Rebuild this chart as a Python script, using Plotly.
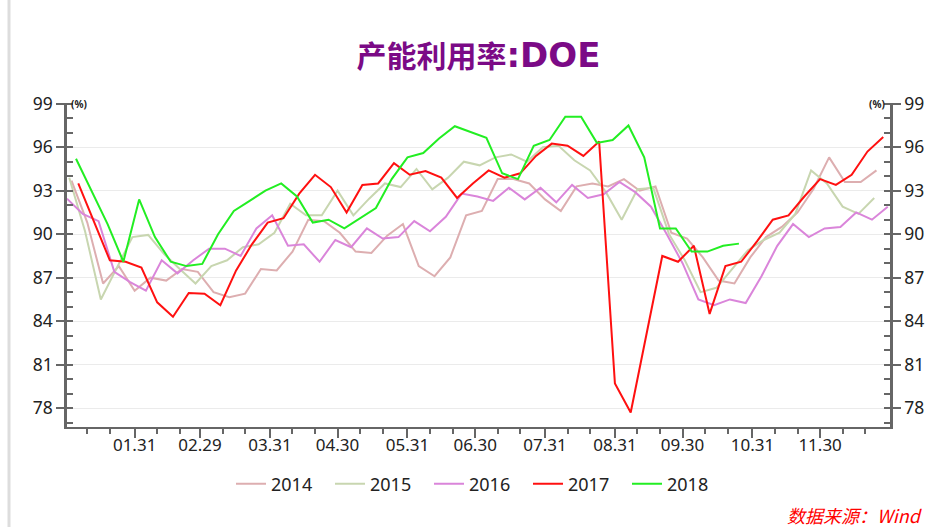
import pandas as pd
import plotly.graph_objects as go

# ---------------- data ----------------
YEARS = ["2014", "2015", "2016", "2017", "2018"]
# day in January of each year's first weekly report (plotted on a common calendar year)
START_DAY = [3, 2, 1, 6, 5]

v2014 = [93.7, 90.8, 86.6, 87.8, 86.1, 87.0, 86.8, 87.6, 87.4, 86.0, 85.65, 85.9, 87.6, 87.5,
         88.8, 91.0, 90.9, 90.1, 88.8, 88.7, 89.9, 90.7, 87.8, 87.1, 88.4, 91.3, 91.6, 93.8,
         93.8, 93.5, 92.4, 91.6, 93.3, 93.5, 93.3, 93.8, 93.0, 93.3, 90.1, 89.7, 88.4, 86.8,
         86.6, 88.4, 89.8, 90.5, 91.5, 93.1, 95.3, 93.6, 93.6, 94.4]
v2015 = [93.9, 90.2, 85.5, 87.7, 89.8, 89.95, 88.65, 87.6, 86.6, 87.8, 88.2, 89.1, 89.3, 90.1,
         92.1, 91.3, 91.3, 93.0, 91.3, 92.45, 93.5, 93.25, 94.5, 93.1, 93.9, 95.0, 94.75, 95.3,
         95.5, 95.0, 96.0, 96.1, 95.1, 94.4, 92.9, 91.0, 93.1, 93.2, 90.0, 88.2, 86.0, 86.3,
         87.6, 88.9, 89.6, 90.1, 91.4, 94.4, 93.5, 91.9, 91.4, 92.5]
v2016 = [92.45, 91.4, 90.9, 87.4, 86.7, 86.1, 88.2, 87.3, 88.2, 89.0, 89.0, 88.5, 90.4, 91.3,
         89.2, 89.3, 88.1, 89.6, 89.1, 90.4, 89.7, 89.8, 90.9, 90.2, 91.2, 92.8, 92.6, 92.3,
         93.2, 92.4, 93.2, 92.2, 93.4, 92.5, 92.75, 93.6, 92.9, 91.9, 90.0, 88.0, 85.5, 85.1,
         85.5, 85.25, 87.1, 89.2, 90.7, 89.8, 90.4, 90.5, 91.5, 91.0, 91.9]
v2017 = [93.5, 90.9, 88.2, 88.1, 87.7, 85.3, 84.3, 85.95, 85.9, 85.1, 87.5, 89.3, 90.8, 91.1,
         92.8, 94.1, 93.25, 91.5, 93.4, 93.5, 94.9, 94.1, 94.35, 93.9, 92.5, 93.5, 94.4, 93.9,
         94.2, 95.4, 96.25, 96.1, 95.4, 96.4, 79.7, 77.7, 83.0, 88.5, 88.1, 89.2, 84.5, 87.8,
         88.1, 89.5, 91.0, 91.3, 92.6, 93.8, 93.4, 94.1, 95.7, 96.7]
v2018 = [95.2, 93.0, 90.7, 88.1, 92.4, 89.8, 88.1, 87.8, 87.95, 90.0, 91.6, 92.3, 93.0, 93.5,
         92.6, 90.8, 91.0, 90.4, 91.1, 91.8, 93.8, 95.3, 95.6, 96.6, 97.45, 97.05, 96.65, 94.2,
         93.8, 96.1, 96.5, 98.1, 98.1, 96.3, 96.5, 97.5, 95.3, 90.4, 90.4, 88.8, 88.8, 89.2, 89.35]
VALUES = [v2014, v2015, v2016, v2017, v2018]

COLORS = ["#DDAEB0", "#C8D6B0", "#DA85DA", "#FF1010", "#22EE22"]

TICK_DATES = ["2016-01-31", "2016-02-29", "2016-03-31", "2016-04-30", "2016-05-31", "2016-06-30",
              "2016-07-31", "2016-08-31", "2016-09-30", "2016-10-31", "2016-11-30"]
TICK_TEXT = ["01.31", "02.29", "03.31", "04.30", "05.31", "06.30",
             "07.31", "08.31", "09.30", "10.31", "11.30"]
Y_TICKS = [78, 81, 84, 87, 90, 93, 96, 99]

# ---------------- figure ----------------
fig = go.Figure()
for name, d0, vals, col in zip(YEARS, START_DAY, VALUES, COLORS):
    x = pd.date_range(pd.Timestamp(2016, 1, d0), periods=len(vals), freq="7D")
    fig.add_trace(go.Scatter(x=x, y=vals, mode="lines", name=name,
                             line=dict(color=col, width=2)))
fig.add_trace(go.Scatter(x=[], y=[], yaxis="y2", showlegend=False, hoverinfo="skip"))

month_ends = [pd.Timestamp("2015-12-31")] + [pd.Timestamp(d) for d in TICK_DATES]
minor_vals = []
for m in month_ends:
    minor_vals += [m + pd.Timedelta(days=10), m + pd.Timedelta(days=20)]

AX = "#666666"
TXT = "#222222"
NUMFONT = "Noto Sans, DejaVu Sans, sans-serif"

yax = dict(range=[76.7, 99.05], tickvals=Y_TICKS, ticks="outside", ticklen=8, tickwidth=2,
           tickcolor=AX, showline=True, linecolor=AX, linewidth=2.5, zeroline=False,
           tickfont=dict(size=17.5, color=TXT, family=NUMFONT),
           minor=dict(dtick=1, tick0=78, ticks="inside", ticklen=6, tickwidth=2, tickcolor=AX,
                      showgrid=False))

title_txt = ("<b>产能利用率</b><span style='font-family:DejaVu Sans;font-size:34px'>"
             "<b>:DOE</b></span>")

fig.update_layout(
    width=942, height=527,
    paper_bgcolor="white", plot_bgcolor="white",
    margin=dict(l=67, r=52, t=103, b=100),
    title=dict(text=title_txt, x=0.5, xref="paper", xanchor="center",
               y=1 - 56 / 527, yref="container", yanchor="middle",
               font=dict(size=30, color="#7B0A86", family="Noto Sans CJK SC, sans-serif")),
    xaxis=dict(type="date", range=["2016-01-01", "2016-12-31"], tickvals=TICK_DATES,
               ticktext=TICK_TEXT, ticks="outside", ticklen=9, tickwidth=2, tickcolor=AX,
               showline=True, linecolor=AX, linewidth=2, showgrid=False, zeroline=False,
               ticklabelstandoff=-7,
               tickfont=dict(size=17, color=TXT, family=NUMFONT),
               minor=dict(tickvals=minor_vals, ticks="outside", ticklen=5, tickwidth=2,
                          tickcolor=AX, showgrid=False)),
    yaxis=dict(**yax, side="left", showgrid=True, gridcolor="#EBEBEB", gridwidth=1),
    yaxis2=dict(**yax, side="right", overlaying="y", showgrid=False),
    legend=dict(orientation="h", x=0.5, xanchor="center", y=(427 - 484) / 324,
                yanchor="middle", entrywidth=54, entrywidthmode="pixels",
                font=dict(size=18, color=TXT, family=NUMFONT), bgcolor="rgba(0,0,0,0)"),
    showlegend=True,
    annotations=[
        dict(text="<b>(%)</b>", xref="paper", x=0, xanchor="left", xshift=2, yref="y", y=99,
             yanchor="middle", showarrow=False, font=dict(size=10, color=TXT, family=NUMFONT)),
        dict(text="<b>(%)</b>", xref="paper", x=1, xanchor="right", xshift=-3, yref="y", y=99,
             yanchor="middle", showarrow=False, font=dict(size=10, color=TXT, family=NUMFONT)),
        dict(text="<i>数据来源：Wind</i>", xref="paper", x=(925 - 67) / 823, xanchor="right",
             yref="paper", y=(427 - 515) / 324, yanchor="middle", showarrow=False,
             font=dict(size=18, color="#FF0000", family="Noto Sans CJK SC, sans-serif")),
    ],
    shapes=[dict(type="line", xref="paper", yref="paper", x0=(9 - 67) / 823, x1=(9 - 67) / 823,
                 y0=(427 - 527) / 324, y1=427 / 324, line=dict(color="#DDDDDD", width=3))],
)

fig.write_html("out.html", config={"displayModeBar": False},
               post_script="document.body.style.margin='0';document.body.style.overflow='hidden';")
